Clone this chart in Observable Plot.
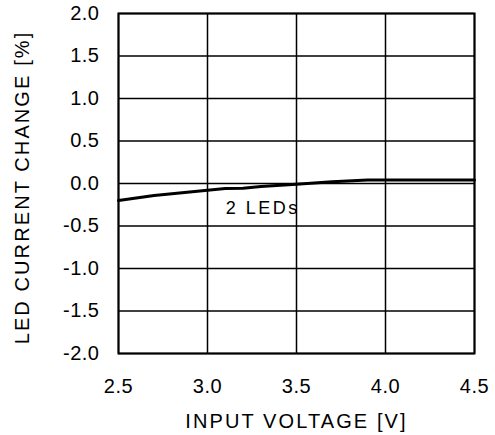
<!DOCTYPE html>
<html>
<head>
<meta charset="utf-8">
<script src="https://cdn.jsdelivr.net/npm/d3@7"></script>
<script src="https://cdn.jsdelivr.net/npm/@observablehq/plot@0.6"></script>
<style>
  body { margin: 0; background: #fff; }
  #chart svg { display: block; }
  #chart svg g[aria-label="x-axis tick label"] text,
  #chart svg g[aria-label="y-axis tick label"] text { font-size: 20px; letter-spacing: 0.5px; }
  #chart svg g[aria-label="x-axis label"] text,
  #chart svg g[aria-label="y-axis label"] text { font-size: 20px; letter-spacing: 2.1px; }
  #chart svg g[aria-label="y-axis label"] { translate: 0px 4px; }
  #chart svg g[aria-label="text"] text { font-size: 18px; letter-spacing: 2.5px; }
</style>
</head>
<body>
<div id="chart"></div>
<script>
const voltage = [2.5, 2.7, 2.9, 3.0, 3.1, 3.2, 3.3, 3.5, 3.7, 3.9, 4.0, 4.5];
const currentChange = [-0.2, -0.14, -0.1, -0.08, -0.06, -0.055, -0.035, -0.01, 0.02, 0.04, 0.04, 0.04];
const xTicks = [2.5, 3.0, 3.5, 4.0, 4.5];
const yTicks = [-2.0, -1.5, -1.0, -0.5, 0.0, 0.5, 1.0, 1.5, 2.0];
const seriesLabel = "2 LEDs";
const labelPos = {x: 3.31, y: -0.29};

const data = voltage.map((v, i) => ({v, c: currentChange[i]}));
const fmt = d => d.toFixed(1);

const chart = Plot.plot({
  width: 495,
  height: 435,
  marginLeft: 118,
  marginRight: 21,
  marginTop: 13,
  marginBottom: 82,
  style: {fontFamily: "'Liberation Sans', Arial, sans-serif", fontSize: "20px", color: "#000", background: "#fff"},
  x: {domain: [2.5, 4.5]},
  y: {domain: [-2, 2]},
  marks: [
    Plot.gridX(xTicks, {stroke: "#000", strokeOpacity: 1, strokeWidth: 1.5}),
    Plot.gridY(yTicks, {stroke: "#000", strokeOpacity: 1, strokeWidth: 1.5}),
    Plot.frame({stroke: "#000", strokeWidth: 2}),
    Plot.axisX({ticks: xTicks, tickFormat: fmt, tickSize: 0, tickPadding: 25,
      label: "INPUT VOLTAGE [V]", labelAnchor: "center", labelOffset: 74, labelArrow: "none"}),
    Plot.axisY({ticks: yTicks, tickFormat: fmt, tickSize: 0, tickPadding: 19,
      label: "LED CURRENT CHANGE [%]", labelAnchor: "center", labelOffset: 104, labelArrow: "none"}),
    Plot.line(data, {x: "v", y: "c", stroke: "#000", strokeWidth: 3}),
    Plot.text([labelPos], {x: "x", y: "y", text: () => seriesLabel, fill: "#000"})
  ]
});
document.getElementById("chart").appendChild(chart);
</script>
</body>
</html>
